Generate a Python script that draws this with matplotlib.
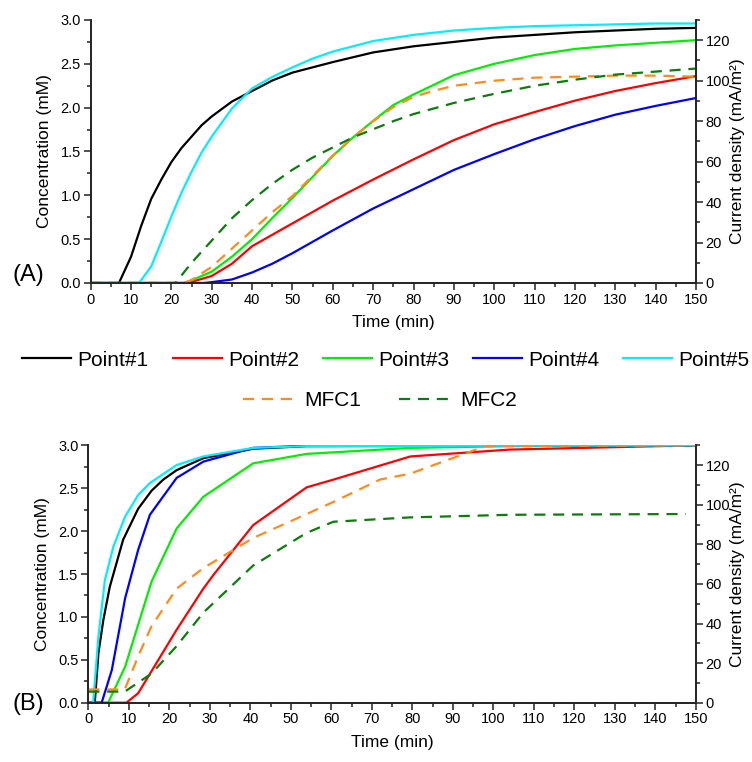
import numpy as np
import matplotlib.pyplot as plt
from matplotlib.ticker import MultipleLocator

plt.rcParams['font.family'] = ['Liberation Sans', 'DejaVu Sans']

# ---- panel A : concentration (mM) ----
tA_p1 = [0, 7, 10, 12.5, 15, 17.5, 20, 22.5, 25, 27.5, 30, 35, 40, 45, 50, 60, 70, 80, 90, 100, 110, 120, 130, 140, 150]
cA_p1 = [0, 0, 0.30, 0.65, 0.96, 1.18, 1.38, 1.54, 1.67, 1.80, 1.90, 2.07, 2.19, 2.31, 2.40, 2.52, 2.63, 2.70, 2.75, 2.80, 2.83, 2.86, 2.88, 2.90, 2.91]

tA_p2 = [0, 24, 30, 35, 40, 45, 50, 55, 60, 70, 80, 90, 100, 110, 120, 130, 140, 150]
cA_p2 = [0, 0, 0.08, 0.22, 0.42, 0.55, 0.68, 0.81, 0.94, 1.18, 1.41, 1.63, 1.81, 1.95, 2.08, 2.19, 2.28, 2.36]

tA_p3 = [0, 23, 25, 30, 35, 40, 45, 50, 55, 60, 65, 70, 75, 80, 90, 100, 110, 120, 130, 140, 150]
cA_p3 = [0, 0, 0.03, 0.13, 0.30, 0.50, 0.74, 0.97, 1.21, 1.45, 1.66, 1.85, 2.03, 2.15, 2.37, 2.50, 2.60, 2.67, 2.71, 2.74, 2.77]

tA_p4 = [0, 28, 30, 35, 40, 45, 50, 55, 60, 70, 80, 90, 100, 110, 120, 130, 140, 150]
cA_p4 = [0, 0, 0.01, 0.04, 0.12, 0.22, 0.34, 0.47, 0.60, 0.85, 1.07, 1.29, 1.47, 1.64, 1.79, 1.92, 2.02, 2.11]

tA_p5 = [0, 12, 15, 17.5, 20, 22.5, 25, 27.5, 30, 35, 40, 45, 50, 55, 60, 70, 80, 90, 100, 110, 120, 130, 140, 150]
cA_p5 = [0, 0, 0.19, 0.47, 0.76, 1.03, 1.27, 1.49, 1.67, 1.99, 2.22, 2.35, 2.46, 2.56, 2.64, 2.76, 2.83, 2.88, 2.91, 2.93, 2.94, 2.95, 2.96, 2.96]

# current density (mA/m2)
tA_m1 = [0, 23, 25, 30, 35, 40, 45, 50, 55, 60, 65, 70, 75, 80, 85, 90, 100, 110, 120, 130, 140, 150]
jA_m1 = [0, 0, 1.5, 8, 17, 26, 35, 43, 53, 63, 72, 80, 87, 92, 95, 97.5, 100, 101.5, 102, 102.5, 102.5, 102]

tA_m2 = [0, 21, 25, 30, 35, 40, 45, 50, 55, 60, 65, 70, 75, 80, 90, 100, 110, 120, 130, 140, 150]
jA_m2 = [0, 0, 10, 21, 32, 41, 49, 56, 62, 67, 72, 76, 80, 83.5, 89, 93.5, 97.5, 100.5, 103, 104.5, 106]

# ---- panel B ----
tB_p1 = [0, 1.6, 2.5, 3.7, 5.3, 8.6, 12.3, 15.6, 18.5, 21.8, 28.4, 40.7, 53.9, 150]
cB_p1 = [0, 0, 0.58, 0.96, 1.35, 1.90, 2.26, 2.47, 2.60, 2.71, 2.85, 2.96, 2.99, 3.0]

tB_p2 = [0, 9.4, 12.3, 21.8, 28.4, 30.9, 40.7, 53.9, 60.5, 79.5, 104, 150]
cB_p2 = [0, 0, 0.11, 0.85, 1.33, 1.49, 2.07, 2.51, 2.60, 2.87, 2.95, 3.0]

tB_p3 = [0, 4.9, 9.1, 15.6, 21.8, 28.4, 40.7, 53.9, 79.5, 104, 150]
cB_p3 = [0, 0, 0.42, 1.41, 2.03, 2.40, 2.79, 2.90, 2.97, 2.99, 3.0]

tB_p4 = [0, 3.3, 5.8, 9.1, 12.3, 15.2, 21.8, 28.4, 40.7, 53.9, 150]
cB_p4 = [0, 0, 0.38, 1.22, 1.78, 2.19, 2.62, 2.81, 2.97, 2.995, 3.0]

tB_p5 = [0, 1.2, 2.5, 4.1, 6.2, 9.1, 12.3, 15.2, 21.8, 28.4, 40.7, 53.9, 150]
cB_p5 = [0, 0, 0.77, 1.43, 1.82, 2.17, 2.42, 2.56, 2.77, 2.87, 2.97, 2.99, 3.0]

tB_m1 = [0, 9, 12.3, 15.6, 21.8, 28.4, 40.7, 53.9, 60.5, 72, 79.5, 98, 150]
jB_m1 = [6.7, 6.7, 23.4, 38.6, 57.6, 68.0, 83.2, 95.3, 101.4, 112.7, 115.7, 129.6, 130]

tB_m2 = [0, 9, 15.6, 21.8, 28.4, 40.7, 53.9, 60.5, 79.5, 104, 147.5]
jB_m2 = [5.6, 5.6, 14.7, 28.6, 45.5, 69.3, 85.8, 91.4, 93.6, 94.9, 95.3]

point_labels = ['Point#1', 'Point#2', 'Point#3', 'Point#4', 'Point#5']
point_colors = ['#000000', '#ff0000', '#00ee00', '#0000ff', '#00eeff']
mfc_labels = ['MFC1', 'MFC2']
mfc_colors = ['#ff8c1a', '#0a7d0a']

W, H = 752, 762
fig = plt.figure(figsize=(W / 100, H / 100), dpi=100)


def setup(ax, ax2):
    for a in (ax, ax2):
        a.spines['top'].set_visible(False)
        for s in a.spines.values():
            s.set_linewidth(1.2)
            s.set_color('#222222')
        a.tick_params(which='both', direction='out', width=1.1, color='#222222', labelsize=10.5)
        a.tick_params(which='major', length=5, pad=2)
        a.tick_params(which='minor', length=3)
    ax.set_xlim(0, 150)
    ax.set_ylim(0, 3.0)
    ax2.set_ylim(0, 130)
    ax.xaxis.set_major_locator(MultipleLocator(10))
    ax.xaxis.set_minor_locator(MultipleLocator(5))
    ax.yaxis.set_major_locator(MultipleLocator(0.5))
    ax.yaxis.set_minor_locator(MultipleLocator(0.25))
    ax.yaxis.set_major_formatter(plt.FormatStrFormatter('%.1f'))
    ax2.yaxis.set_major_locator(MultipleLocator(20))
    ax2.yaxis.set_minor_locator(MultipleLocator(10))
    ax.set_xlabel('Time (min)', fontsize=12.5, labelpad=6)
    ax.set_ylabel('Concentration (mM)', fontsize=12.5, labelpad=6)
    ax2.set_ylabel('Current density (mA/m²)', fontsize=12.5, labelpad=0)


dash = (5, 3.5)

# panel A
axA = fig.add_axes([90.7 / W, 1 - 283 / H, (696 - 90.7) / W, (283 - 20) / H])
axA2 = axA.twinx()
setup(axA, axA2)
handles = []
for t, c, lab, col in zip([tA_p1, tA_p2, tA_p3, tA_p4, tA_p5],
                          [cA_p1, cA_p2, cA_p3, cA_p4, cA_p5], point_labels, point_colors):
    h, = axA.plot(t, c, color=col, lw=1.6, label=lab)
    handles.append(h)
for t, j, lab, col in zip([tA_m1, tA_m2], [jA_m1, jA_m2], mfc_labels, mfc_colors):
    h, = axA2.plot(t, j, color=col, lw=1.6, ls='--', dashes=dash, label=lab)
    handles.append(h)
fig.text(13 / W, 1 - 275 / H, '(A)', fontsize=17, va='center', ha='left')

# panel B
axB = fig.add_axes([88.3 / W, 1 - 702.7 / H, (696 - 88.3) / W, (702.7 - 445.3) / H])
axB2 = axB.twinx()
setup(axB, axB2)
for t, c, col in zip([tB_p1, tB_p2, tB_p3, tB_p4, tB_p5],
                     [cB_p1, cB_p2, cB_p3, cB_p4, cB_p5], point_colors):
    axB.plot(t, c, color=col, lw=1.6)
for t, j, col in zip([tB_m1, tB_m2], [jB_m1, jB_m2], mfc_colors):
    axB2.plot(t, j, color=col, lw=1.6, ls='--', dashes=dash)
fig.text(13 / W, 1 - 704 / H, '(B)', fontsize=17, va='center', ha='left')

# legend
fig.legend(handles[:5], point_labels, ncol=5, loc='center', bbox_to_anchor=(386 / W, 1 - 360 / H),
           frameon=False, fontsize=15, handlelength=2.35, handletextpad=0.3, columnspacing=1.15)
fig.legend(handles[5:], mfc_labels, ncol=2, loc='center', bbox_to_anchor=(380 / W, 1 - 401 / H),
           frameon=False, fontsize=15, handlelength=2.35, handletextpad=0.6, columnspacing=1.8)

fig.savefig('out.png', dpi=100)
